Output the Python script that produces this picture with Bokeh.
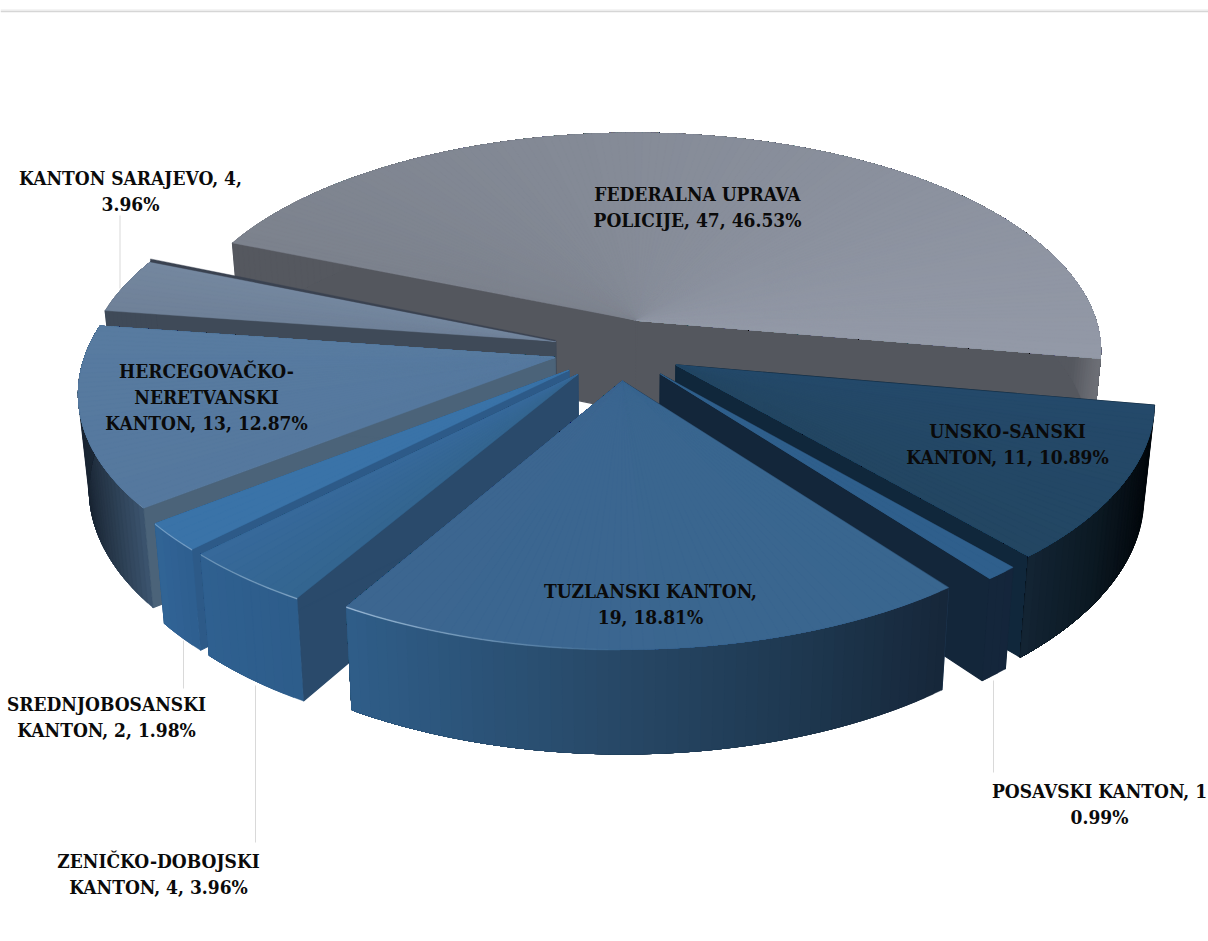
import numpy as np
from bokeh.embed import file_html
from bokeh.resources import INLINE
from bokeh.plotting import figure
from bokeh.models import Range1d, ColumnDataSource
from bokeh.core.properties import value

categories = ["FEDERALNA UPRAVA POLICIJE", "UNSKO-SANSKI KANTON", "POSAVSKI KANTON", "TUZLANSKI KANTON",
              "ZENIČKO-DOBOJSKI KANTON", "SREDNJOBOSANSKI KANTON", "HERCEGOVAČKO-NERETVANSKI KANTON", "KANTON SARAJEVO"]
values = [47, 11, 1, 19, 4, 2, 13, 4]
percents = ["46.53%", "10.89%", "0.99%", "18.81%", "3.96%", "1.98%", "12.87%", "3.96%"]

# style: top colour (start, end of the sweep), radial wall colour, rim colour stops (screen x -> colour)
top_colors = [("#7c828d", "#9399a7"), ("#24496a", "#234662"), ("#2f5f8c", "#2f5f8c"), ("#39668f", "#3c6690"),
              ("#336590", "#37699a"), ("#3a73a8", "#3a73a8"), ("#55789e", "#587ba0"), ("#6f8198", "#74879f")]
wall_colors = ["#54575e", "#10273b", "#13263a", "#1f3a55", "#2a4a6b", "#2d5a88", "#4b6379", "#3f4a58"]
rim_stops = [[(1080, "#55585f"), (1100, "#6d6f76")],
             [(1000, "#16293b"), (1100, "#0b1822"), (1155, "#02060a")],
             [(960, "#16293d"), (1020, "#13243a")],
             [(350, "#2f5d88"), (620, "#274866"), (800, "#1e3850"), (945, "#16273a")],
             [(200, "#2f6090"), (305, "#2d5c8a")],
             [(155, "#316496"), (205, "#2d5c8c")],
             [(75, "#17222f"), (100, "#263648"), (160, "#45617f")],
             [(95, "#3f4a58"), (150, "#3f4a58")]]
# rim highlight: screen x -> strength 0..1
rim_light = {3: [(350, 0.9), (480, 0.5), (620, 0.0)], 4: [(200, 0.5), (305, 0.7)], 5: [(155, 0.5), (205, 0.7)]}

label_lines = [["FEDERALNA UPRAVA", "POLICIJE, 47, 46.53%"], ["UNSKO-SANSKI", "KANTON, 11, 10.89%"],
               ["POSAVSKI KANTON, 1", "0.99%"], ["TUZLANSKI KANTON,", "19, 18.81%"],
               ["ZENIČKO-DOBOJSKI", "KANTON, 4, 3.96%"], ["SREDNJOBOSANSKI", "KANTON, 2, 1.98%"],
               ["HERCEGOVAČKO-", "NERETVANSKI", "KANTON, 13, 12.87%"], ["KANTON SARAJEVO, 4,", "3.96%"]]
label_x = [697, 1007, 1099, 650, 158, 106, 206, 130]
label_y = [193, 430, 790, 590, 860, 703, 370, 177]
line_step = 26
leaders = [(993, 680, 772), (255, 685, 842), (183, 640, 688), (119.5, 215, 288)]

CX, CY, RX, RY, K, H, EXPLODE, START = 618, 349, 468, 221, 0.14, 95, 0.14, -67.5


def proj(u, v, z=0.0):
    s = 1 / (1 - K * v) * (1 - 0.02 * z)
    return CX + RX * u * s, CY + RY * v * s + H * z * s


def lerp(c1, c2, t):
    a = [int(c1[i:i + 2], 16) for i in (1, 3, 5)]
    b = [int(c2[i:i + 2], 16) for i in (1, 3, 5)]
    return "#%02x%02x%02x" % tuple(int(round(a[i] + (b[i] - a[i]) * t)) for i in range(3))


def ramp(stops, x):
    if x <= stops[0][0]:
        return stops[0][1]
    for (x0, c0), (x1, c1) in zip(stops, stops[1:]):
        if x <= x1:
            return lerp(c0, c1, (x - x0) / (x1 - x0))
    return stops[-1][1]


def ramp_num(stops, x):
    return float(np.interp(x, [s[0] for s in stops], [s[1] for s in stops]))


total = sum(values)
sweeps = [v / total * 360 for v in values]
starts = START + np.concatenate([[0], np.cumsum(sweeps)[:-1]])
order = sorted(range(len(values)), key=lambda i: -np.cos(np.radians(starts[i] + sweeps[i] / 2)))

xs, ys, cols, widths = [], [], [], []


def add(pts, c, w=0.4):
    xs.append([q[0] for q in pts])
    ys.append([q[1] for q in pts])
    cols.append(c)
    widths.append(w)


for i in order:
    a0, sw = starts[i], sweeps[i]
    mid = np.radians(a0 + sw / 2)
    ou, ov = EXPLODE * np.sin(mid), -EXPLODE * np.cos(mid)
    n = max(3, int(sw / 1.2))
    th = np.radians(np.linspace(a0, a0 + sw, n + 1))
    U, V = ou + np.sin(th), ov - np.cos(th)
    # radial walls
    for j in (0, n):
        add([proj(ou, ov), proj(U[j], V[j]), proj(U[j], V[j], 1), proj(ou, ov, 1)], wall_colors[i], 1.2)
    # rim: every band runs on to the end of the slice, so the next one covers it without a seam
    for j in range(n):
        top = [proj(U[k], V[k]) for k in range(j, n + 1)]
        bot = [proj(U[k], V[k], 1) for k in range(n, j - 1, -1)]
        add(top + bot, ramp(rim_stops[i], (top[0][0] + top[1][0]) / 2))
    # top fan, same overlap
    for j in range(n):
        add([proj(ou, ov)] + [proj(U[k], V[k]) for k in range(j, n + 1)],
            lerp(top_colors[i][0], top_colors[i][1], (j + .5) / n))
    # rim highlight
    if i in rim_light:
        for j in range(n):
            a, b = proj(U[j], V[j]), proj(U[j + 1], V[j + 1])
            t = ramp_num(rim_light[i], (a[0] + b[0]) / 2)
            if t > 0:
                add([a, b, (b[0], b[1] + 0.9), (a[0], a[1] + 0.9)], lerp(top_colors[i][0], "#a9c6e0", t))
    # thin dark edge on the back of the Sarajevo slice
    if i == 7:
        a, b = proj(ou, ov), proj(U[n], V[n])
        add([a, b, (b[0], b[1] - 3), (a[0], a[1] - 1)], "#3a4250")

p = figure(width=1208, height=941, x_range=Range1d(0, 1208), y_range=Range1d(941, 0),
           x_axis_location=None, y_axis_location=None, toolbar_location=None,
           output_backend="svg", min_border=0, outline_line_color=None, background_fill_color="white")
p.grid.visible = False

p.segment(x0=[0], y0=[9.5], x1=[1208], y1=[9.5], line_color="#f0f0f0", line_width=1.5)
p.segment(x0=[0], y0=[11], x1=[1208], y1=[11], line_color="#d6d6d6", line_width=1.5)
for lx, y0, y1 in leaders:
    p.segment(x0=[lx], y0=[y0], x1=[lx], y1=[y1], line_color="#d9d9d9", line_width=1)

p.patches("xs", "ys", source=ColumnDataSource(dict(xs=xs, ys=ys, c=cols, w=widths)),
          fill_color="c", line_color="c", line_width="w")

tx, ty, tt = [], [], []
for lines, x, y in zip(label_lines, label_x, label_y):
    for k, t in enumerate(lines):
        tx.append(x)
        ty.append(y + k * line_step)
        tt.append(t)
p.text(tx, ty, text=tt, text_font=value("DejaVu Serif Condensed"), text_font_style="bold", text_font_size="19px",
       text_align="center", text_baseline="middle", text_color="#0a0a0a")

open("out.html", "w").write(file_html(p, INLINE))
